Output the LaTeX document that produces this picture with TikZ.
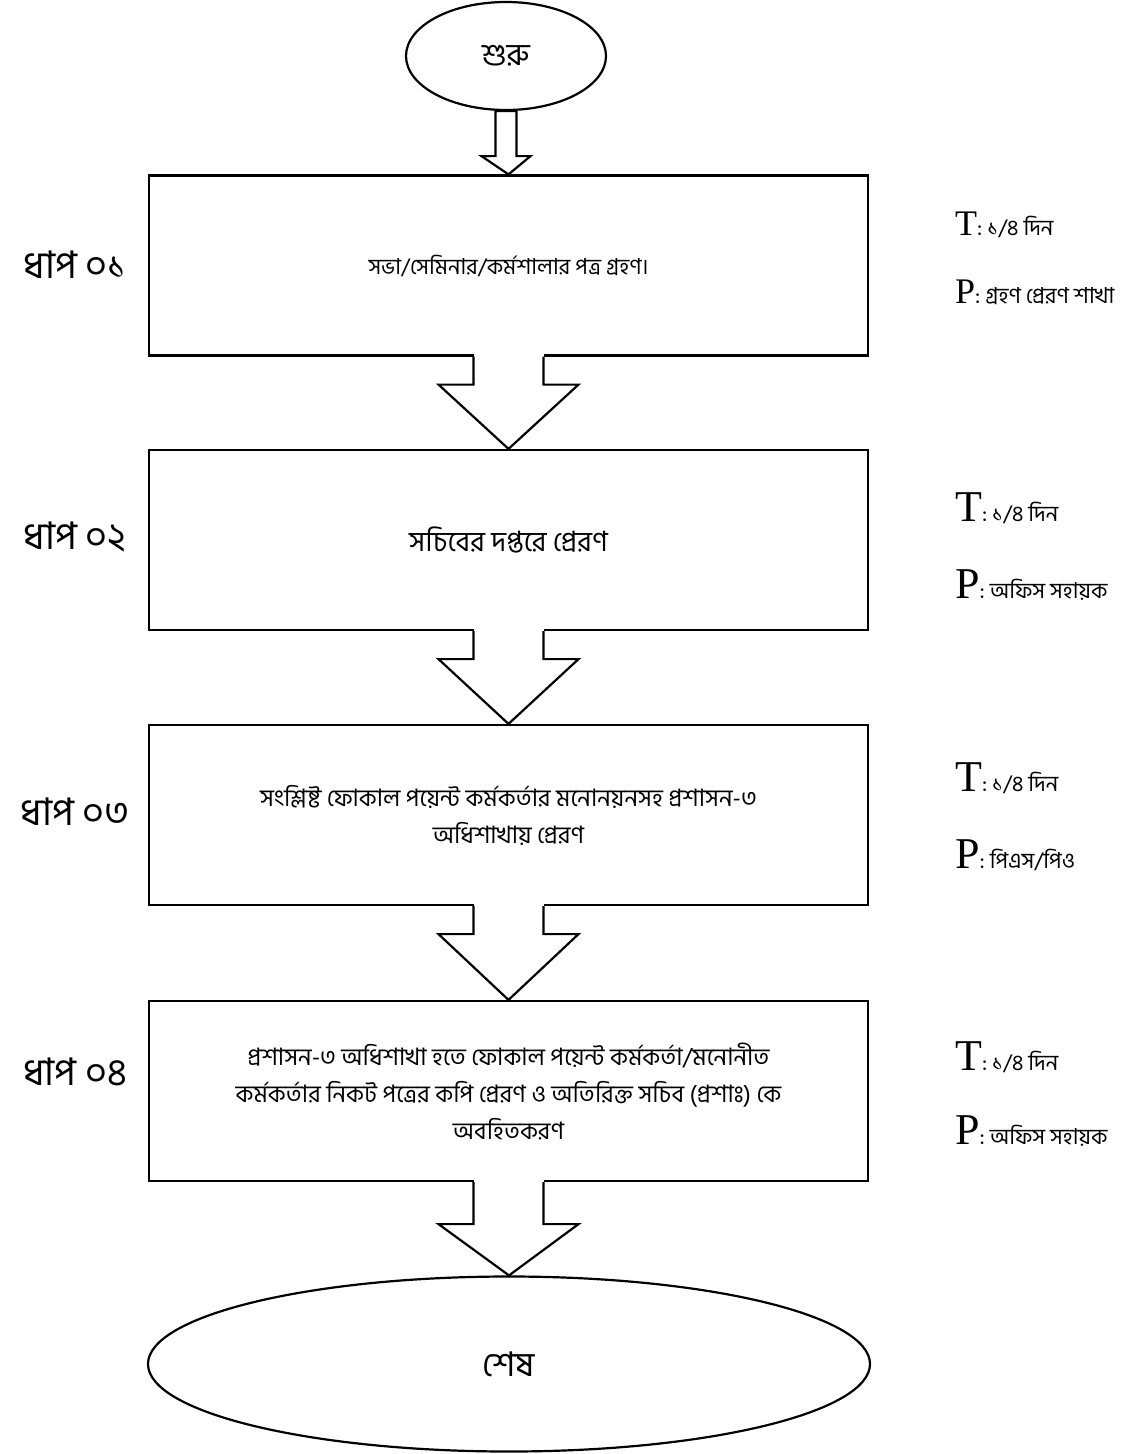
\documentclass[tikz,border=0pt]{standalone}
\usepackage{fontspec}
\newfontfamily\bn[Script=Bengali]{Hind Siliguri}
\newfontfamily\tnr{Liberation Serif}
\usetikzlibrary{calc,shapes.geometric}
\newcommand\fatarrow[5]{%
  \fill[white] ($(#1.south)+(-#3,-4)$) rectangle ($(#1.south)+(#3,#5)$);
  \draw[arr] ($(#1.south)+(-#3,0)$) -- ($(#1.south)+(-#3,#5)$) -- ($(#1.south)+(-#4,#5)$) -- (#2.north)
     -- ($(#1.south)+(#4,#5)$) -- ($(#1.south)+(#3,#5)$) -- ($(#1.south)+(#3,0)$);}
\begin{document}
\begin{tikzpicture}[x=1pt,y=-1pt,
  box/.style={draw,line width=2.2pt,minimum width=719pt,minimum height=180pt,inner sep=0pt,align=center,
    font=\bn\fontsize{24}{37}\selectfont},
  oval/.style={draw,ellipse,line width=2.2pt,inner sep=0pt,fill=white,font=\bn\fontsize{31}{36}\selectfont},
  steplbl/.style={inner sep=0pt,font=\bn\fontsize{38}{40}\selectfont},
  tp/.style={anchor=west,inner sep=0pt,font=\bn\fontsize{22}{25}\selectfont},
  arr/.style={line width=2.2pt,line join=miter}]
\useasboundingbox (0,0) rectangle (1130,1454);

% start / end
\node[oval,minimum width=200pt,minimum height=108pt] (start) at (506,56) {শুরু};
\node[box,font=\bn\fontsize{22}{37}\selectfont] (s1) at (508.5,265.5) {সভা/সেমিনার/কর্মশালার পত্র গ্রহণ।};
\node[box,font=\bn\fontsize{28}{37}\selectfont] (s2) at (508.5,540) {সচিবের দপ্তরে প্রেরণ};
\node[box] (s3) at (508.5,815) {সংশ্লিষ্ট ফোকাল পয়েন্ট কর্মকর্তার মনোনয়নসহ প্রশাসন-৩\\অধিশাখায় প্রেরণ};
\node[box] (s4) at (508.5,1091) {প্রশাসন-৩ অধিশাখা হতে ফোকাল পয়েন্ট কর্মকর্তা/মনোনীত\\কর্মকর্তার নিকট পত্রের কপি প্রেরণ ও অতিরিক্ত সচিব (প্রশাঃ) কে\\অবহিতকরণ};
\node[oval,minimum width=722pt,minimum height=175pt,font=\bn\fontsize{34}{36}\selectfont] (end) at (509,1364) {শেষ};

% start arrow (closed at top)
\draw[arr] ($(start.south)+(-10.5,0)$) -- ($(start.south)+(-10.5,45)$) -- ($(start.south)+(-24.5,45)$) -- (s1.north)
   -- ($(start.south)+(24.5,45)$) -- ($(start.south)+(10.5,45)$) -- ($(start.south)+(10.5,0)$) -- cycle;

\fatarrow{s1}{s2}{35}{70}{28}
\fatarrow{s2}{s3}{35}{70}{28}
\fatarrow{s3}{s4}{35}{70}{28}
\fatarrow{s4}{end}{35}{70}{42}

% step labels
\node[steplbl] (l1) at (75,265) {ধাপ ০১};
\node[steplbl] (l2) at (75,537) {ধাপ ০২};
\node[steplbl] (l3) at (75,812) {ধাপ ০৩};
\node[steplbl] (l4) at (75,1072) {ধাপ ০৪};

% time / person labels
\node[tp] (t1) at (955,225) {{\tnr\fontsize{36}{36}\selectfont T}: ১/৪ দিন};
\node[tp] (p1) at (955,292) {{\tnr\fontsize{36}{36}\selectfont P}: গ্রহণ প্রেরণ শাখা};
\node[tp] (t2) at (955,508) {{\tnr\fontsize{44}{44}\selectfont T}: ১/৪ দিন};
\node[tp] (p2) at (955,585) {{\tnr\fontsize{44}{44}\selectfont P}: অফিস সহায়ক};
\node[tp] (t3) at (955,778) {{\tnr\fontsize{44}{44}\selectfont T}: ১/৪ দিন};
\node[tp] (p3) at (955,855) {{\tnr\fontsize{44}{44}\selectfont P}: পিএস/পিও};
\node[tp] (t4) at (955,1057) {{\tnr\fontsize{44}{44}\selectfont T}: ১/৪ দিন};
\node[tp] (p4) at (955,1131) {{\tnr\fontsize{44}{44}\selectfont P}: অফিস সহায়ক};
\end{tikzpicture}
\end{document}
